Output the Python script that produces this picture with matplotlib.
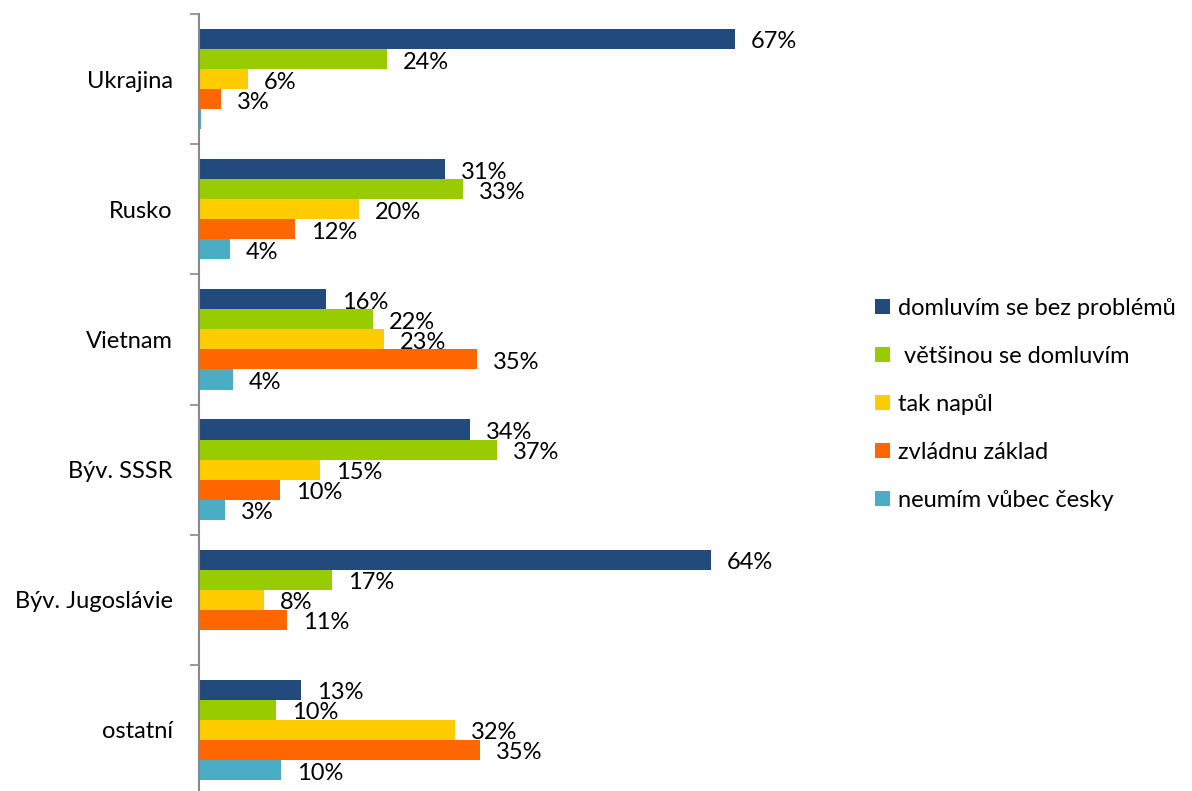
import numpy as np
import matplotlib
matplotlib.use('Agg')
import matplotlib.pyplot as plt
from matplotlib.ticker import FixedLocator

plt.rcParams['font.family'] = ['Lato', 'DejaVu Sans']

categories = ['Ukrajina', 'Rusko', 'Vietnam', 'Býv. SSSR', 'Býv. Jugoslávie', 'ostatní']
series_names = ['domluvím se bez problémů', ' většinou se domluvím', 'tak napůl',
                'zvládnu základ', 'neumím vůbec česky']
bez_problemu = [67, 30.7, 15.9, 33.9, 64, 12.7]
vetsinou = [23.5, 33, 21.7, 37.2, 16.6, 9.6]
napul = [6.1, 20, 23.1, 15.1, 8.1, 32]
zaklad = [2.7, 12, 34.8, 10.1, 11, 35.1]
vubec = [0.3, 3.9, 4.2, 3.3, np.nan, 10.3]
colors = ['#224A7C', '#99CC00', '#FFCC00', '#FF6600', '#4BACC6']

data = [bez_problemu, vetsinou, napul, zaklad, vubec]
FS = 17

W, H = 1192, 791
fig = plt.figure(figsize=(W / 100, H / 100), dpi=100)
ax = fig.add_axes([199 / W, -4 / H, 640 / W, 781 / H])

y = np.arange(len(categories))
h = 0.77 / 5
for j, (vals, col, name) in enumerate(zip(data, colors, series_names)):
    pos = y + (j - 2) * h
    ax.barh(pos, vals, height=h, color=col, label=name, edgecolor='none')
    for p, v in zip(pos, vals):
        if np.isnan(v) or v < 0.5:
            continue
        ax.annotate('{:.0f}%'.format(v), (v, p), xytext=(16, -3),
                    textcoords='offset pixels',
                    va='center', ha='left', fontsize=FS, color='#000000')

ax.set_xlim(0, 80)
ax.set_ylim(5.5, -0.5)
ax.set_yticks(y)
ax.set_yticklabels(categories, fontsize=FS)
ax.yaxis.set_minor_locator(FixedLocator(np.arange(-0.5, 6, 1)))
ax.tick_params(axis='y', which='major', length=0, pad=19)
ax.tick_params(axis='y', which='minor', length=6.5, width=1.2, color='#888888')
ax.set_xticks([])
for s in ['top', 'right', 'bottom']:
    ax.spines[s].set_visible(False)
ax.spines['left'].set_color('#888888')
ax.spines['left'].set_linewidth(1.5)

fig.legend(loc='upper left', bbox_to_anchor=(875 / W, 1 - 298 / H), frameon=False,
           fontsize=FS, handlelength=0.62, handleheight=0.62, handletextpad=0.35,
           labelspacing=1.14, borderaxespad=0, borderpad=0)

fig.savefig('out.png', dpi=100)
